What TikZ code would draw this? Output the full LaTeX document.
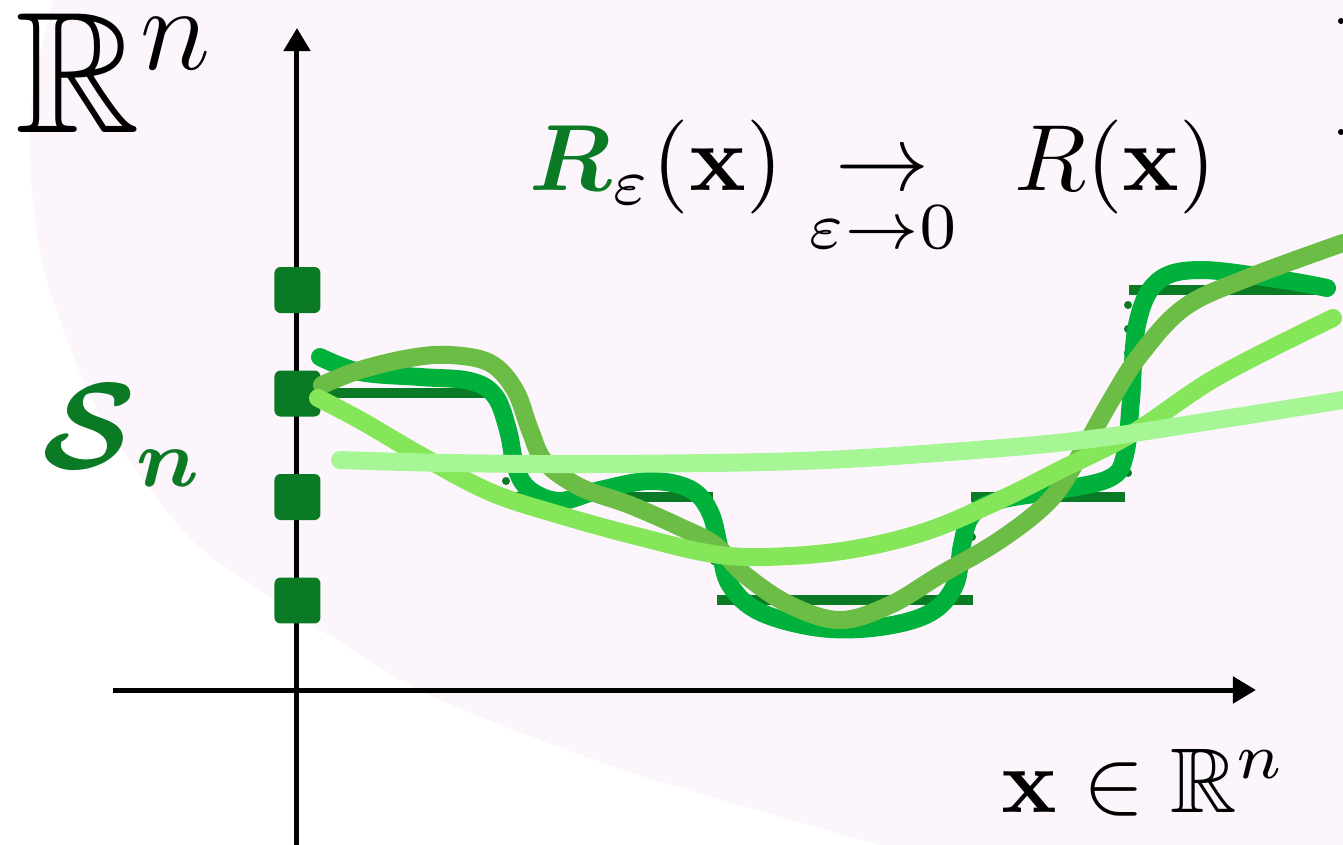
\documentclass[tikz,border=0pt]{standalone}
\usepackage{amsmath}
\usepackage{amssymb}
\usepackage{bm}
\usepackage{tikz}
\usetikzlibrary{arrows.meta}

\definecolor{bgpink}{RGB}{252,245,252}
\definecolor{dkgreen}{RGB}{11,122,36}
\definecolor{brightg}{RGB}{0,178,60}
\definecolor{oliveg}{RGB}{108,189,69}
\definecolor{limeg}{RGB}{134,230,90}
\definecolor{paleg}{RGB}{166,246,150}

\tikzset{
  axis/.style={line width=0.5pt,-{Triangle[length=2.3pt,width=2.6pt]}},
  tick/.style={fill=dkgreen,rounded corners=0.6pt,minimum size=4.6pt,inner sep=0pt},
  stepbar/.style={dkgreen,line width=1pt},
  jump/.style={dkgreen,line width=0.8pt,line cap=round,dash pattern=on 0pt off 2.4pt},
  chalk/.style={draw=#1,line width=1.8pt,line cap=round,line join=round,
    preaction={draw=black,draw opacity=0.18,transform canvas={xshift=0.2pt,yshift=-0.6pt}}},
  lbl/.style={anchor=base west,inner sep=0pt}
}

\begin{document}
\begin{tikzpicture}[x=0.1pt,y=-0.1pt]
  \useasboundingbox (0,0) rectangle (1343,845);
  \fill[white] (0,0) rectangle (1343,845);
  % pale region
  \fill[bgpink] plot[smooth] coordinates {(53,0) (33,90) (30,160) (38,240) (53,300)
    (100,415) (187,535) (260,590) (345,645) (433,697) (633,773) (880,845)}
    -- (1343,845) -- (1343,0) -- cycle;

  % axes
  \coordinate (ybot) at (297,845);
  \coordinate (ytop) at (297,28);
  \coordinate (xl) at (113,690);
  \coordinate (xr) at (1256,690);
  \draw[axis] (ybot) -- (ytop);
  \draw[axis] (xl) -- (xr);

  % the set S_n on the vertical axis
  \foreach \y/\nm in {290/s1,393.5/s2,497/s3,600.5/s4}
    \node[tick] (\nm) at (297.5,\y) {};

  % step function R(x)
  \draw[stepbar] (307,393) -- (500,393);
  \draw[stepbar] (512,497) -- (713,497);
  \draw[stepbar] (717,600) -- (973,600);
  \draw[stepbar] (971,497) -- (1125,497);
  \draw[stepbar] (1129,290) -- (1331,290);
  \draw[jump] (506,409) -- (506,481);
  \draw[jump] (714,513) -- (714,583);
  \draw[jump] (972,513) -- (972,583);
  \draw[jump] (1128,305) -- (1128,473);

  % smoothed approximations R_eps(x)
  \draw[chalk=brightg] plot[smooth,tension=0.6] coordinates {(320,357) (360,372) (420,377)
    (470,381) (495,396) (508,430) (516,468) (530,490) (560,501) (600,490) (650,481)
    (690,489) (710,512) (720,550) (730,585) (760,612) (820,628) (880,627) (930,613)
    (955,585) (962,545) (972,515) (1000,500) (1060,490) (1110,478) (1125,455)
    (1131,400) (1137,325) (1157,282) (1200,270) (1283,280) (1327,288)};
  \draw[chalk=oliveg] plot[smooth,tension=0.6] coordinates {(322,385) (360,370) (410,358)
    (450,355) (490,363) (515,390) (530,430) (545,462) (580,487) (630,505) (680,527)
    (715,545) (745,575) (790,605) (840,620) (890,605) (940,575) (1000,540) (1050,500)
    (1080,455) (1110,402) (1140,355) (1185,307) (1250,277) (1343,243)};
  \draw[chalk=limeg] plot[smooth,tension=0.6] coordinates {(318,398) (360,420) (420,455)
    (490,492) (560,515) (640,537) (720,555) (790,556) (860,548) (930,530) (1000,500)
    (1060,470) (1133,433) (1217,377) (1333,318)};
  \draw[chalk=paleg] plot[smooth,tension=0.6] coordinates {(340,460) (450,463) (600,464)
    (800,461) (950,452) (1083,440) (1217,420) (1343,400)};

  % labels
  \node[lbl,font=\LARGE] (rn) at (14,132) {$\mathbb{R}^n$};
  \node[lbl,font=\large,scale=1.02] (sn) at (40,468) {$\color{dkgreen}\bm{\mathcal{S}}_{\bm{n}}$};
  \node[lbl,scale=0.94] (lim) at (528,190)
    {${\color{dkgreen}\bm{R}}_{\varepsilon}(\mathbf{x}) \underset{\varepsilon\to 0}{\to}\ R(\mathbf{x})$};
  \node[lbl,scale=0.92] (xin) at (1000,812) {$\mathbf{x}\in\mathbb{R}^n$};

  % cut-off marks at the right edge
  \fill (1341,21) circle (0.3pt);
  \fill (1341,132) circle (0.3pt);
\end{tikzpicture}
\end{document}
